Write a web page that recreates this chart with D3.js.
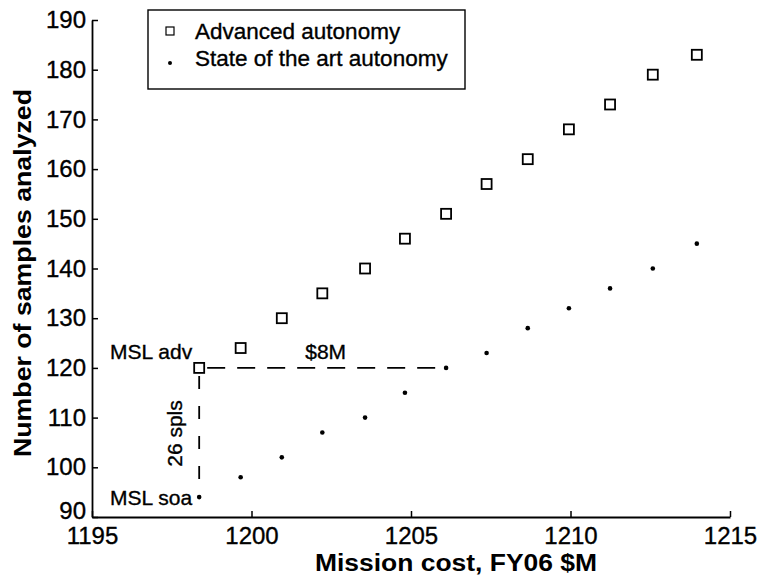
<!DOCTYPE html>
<html>
<head>
<meta charset="utf-8">
<script src="https://cdn.jsdelivr.net/npm/d3@7"></script>
<style>
  html, body { margin: 0; padding: 0; background: #fff; }
  svg { display: block; }
  text { font-family: "Liberation Sans", Arial, Helvetica, sans-serif; fill: #000; }
</style>
</head>
<body>
<svg id="chart" width="758" height="577"></svg>
<script>
// Mission cost (FY06 $M) for each design point
const missionCost = [1198.36, 1199.66, 1200.95, 1202.22, 1203.56, 1204.81, 1206.1,
                     1207.37, 1208.66, 1209.95, 1211.24, 1212.58, 1213.96];
// Samples analyzed with advanced autonomy
const advancedSamples = [120, 124, 130, 135, 140, 146, 151, 157, 162, 168, 173, 179, 183];
// Samples analyzed with state-of-the-art autonomy
const soaSamples = [94, 98, 102, 107, 110, 115, 120, 123, 128, 132, 136, 140, 145];

const seriesNames = ["Advanced autonomy", "State of the art autonomy"];
const xTicks = [1195, 1200, 1205, 1210, 1215];
const yTicks = [90, 100, 110, 120, 130, 140, 150, 160, 170, 180, 190];

const svg = d3.select("#chart");
const margin = { left: 92, right: 28, top: 20, bottom: 60 };
const W = 758, H = 577;

const x = d3.scaleLinear().domain([1195, 1215]).range([margin.left, W - margin.right]);
const y = d3.scaleLinear().domain([90, 190]).range([H - margin.bottom, margin.top]);

const tickFont = 24;
const ink = 0.35; // slight stroke so the type reads as heavy as print

// Axes with inward ticks
const gx = svg.append("g")
  .attr("transform", `translate(0,${y(90)})`)
  .call(d3.axisBottom(x).tickValues(xTicks).tickFormat(d3.format("d"))
        .tickSizeInner(-6).tickSizeOuter(0).tickPadding(10));
const gy = svg.append("g")
  .attr("transform", `translate(${x(1195)},0)`)
  .call(d3.axisLeft(y).tickValues(yTicks).tickFormat(d3.format("d"))
        .tickSizeInner(-6).tickSizeOuter(0).tickPadding(6));

[gx, gy].forEach(g => {
  g.select(".domain").attr("stroke", "#000").attr("stroke-width", 1.8);
  g.selectAll(".tick line").attr("stroke", "#000").attr("stroke-width", 1.5);
  g.selectAll(".tick text").attr("font-size", tickFont)
    .attr("font-family", "'Liberation Sans', Arial, sans-serif")
    .attr("fill", "#000").attr("stroke", "#000").attr("stroke-width", ink);
});
// lift the lowest y label clear of the corner x label
gy.selectAll(".tick text").filter(d => d === 90).attr("dy", "0.05em");

// Axis titles
svg.append("text")
  .attr("x", 456).attr("y", 571)
  .attr("text-anchor", "middle").attr("font-size", 23).attr("font-weight", "bold")
  .attr("textLength", 282).attr("lengthAdjust", "spacingAndGlyphs")
  .text("Mission cost, FY06 $M");
svg.append("text")
  .attr("transform", `translate(31,${273}) rotate(-90)`)
  .attr("text-anchor", "middle").attr("font-size", 24).attr("font-weight", "bold")
  .attr("textLength", 368).attr("lengthAdjust", "spacingAndGlyphs")
  .text("Number of samples analyzed");

// Comparison guides from the MSL baseline
const base = 0;
const match = soaSamples.findIndex(v => v === advancedSamples[base]);
const guides = svg.append("g").attr("stroke", "#000").attr("stroke-width", 1.8)
  .attr("fill", "none");
guides.append("line")
  .attr("stroke-dasharray", "18,12")
  .attr("x1", x(missionCost[base]) + 8).attr("y1", y(advancedSamples[base]))
  .attr("x2", x(missionCost[match])).attr("y2", y(advancedSamples[base]));
guides.append("line")
  .attr("stroke-dasharray", "13,17")
  .attr("x1", x(missionCost[base])).attr("y1", y(advancedSamples[base]) + 8)
  .attr("x2", x(missionCost[base])).attr("y2", y(soaSamples[base]) - 4);

// Advanced autonomy: open squares
const sq = 10;
svg.append("g").selectAll("rect")
  .data(missionCost.map((c, i) => [c, advancedSamples[i]]))
  .join("rect")
  .attr("x", d => x(d[0]) - sq / 2).attr("y", d => y(d[1]) - sq / 2)
  .attr("width", sq).attr("height", sq)
  .attr("fill", "#fff").attr("stroke", "#000").attr("stroke-width", 1.8);

// State of the art autonomy: small dots
svg.append("g").selectAll("circle")
  .data(missionCost.map((c, i) => [c, soaSamples[i]]))
  .join("circle")
  .attr("cx", d => x(d[0])).attr("cy", d => y(d[1])).attr("r", 2.3)
  .attr("fill", "#000");

// Annotations
const annoSize = 21;
function note(sel) {
  return sel.attr("font-size", annoSize).attr("stroke", "#000").attr("stroke-width", ink);
}
note(svg.append("text")).attr("x", x(missionCost[base]) - 7).attr("y", y(advancedSamples[base]) - 9)
  .attr("text-anchor", "end").text("MSL adv");
note(svg.append("text")).attr("x", x(missionCost[base]) - 7).attr("y", y(soaSamples[base]) + 8)
  .attr("text-anchor", "end").text("MSL soa");
note(svg.append("text"))
  .attr("x", (x(missionCost[base]) + x(missionCost[match])) / 2 + 3)
  .attr("y", y(advancedSamples[base]) - 9)
  .attr("text-anchor", "middle")
  .text("$" + (missionCost[match] - missionCost[base]).toFixed(0) + "M");
note(svg.append("text"))
  .attr("transform", `translate(${x(missionCost[base]) - 17},${(y(advancedSamples[base]) + y(soaSamples[base])) / 2 + 1}) rotate(-90)`)
  .attr("text-anchor", "middle")
  .text((advancedSamples[base] - soaSamples[base]) + " spls");

// Legend
const lg = svg.append("g").attr("transform", "translate(148,10)");
lg.append("rect").attr("width", 317).attr("height", 79)
  .attr("fill", "#fff").attr("stroke", "#000").attr("stroke-width", 1.4);
lg.append("rect").attr("x", 18).attr("y", 17).attr("width", 8).attr("height", 8)
  .attr("fill", "#fff").attr("stroke", "#000").attr("stroke-width", 1.2);
lg.append("circle").attr("cx", 22).attr("cy", 53).attr("r", 2).attr("fill", "#000");
lg.selectAll("text.lab").data(seriesNames).join("text").attr("class", "lab")
  .attr("x", 47).attr("y", (d, i) => 29 + i * 27)
  .attr("font-size", 22.5).attr("stroke", "#000").attr("stroke-width", ink)
  .text(d => d);
</script>
</body>
</html>
